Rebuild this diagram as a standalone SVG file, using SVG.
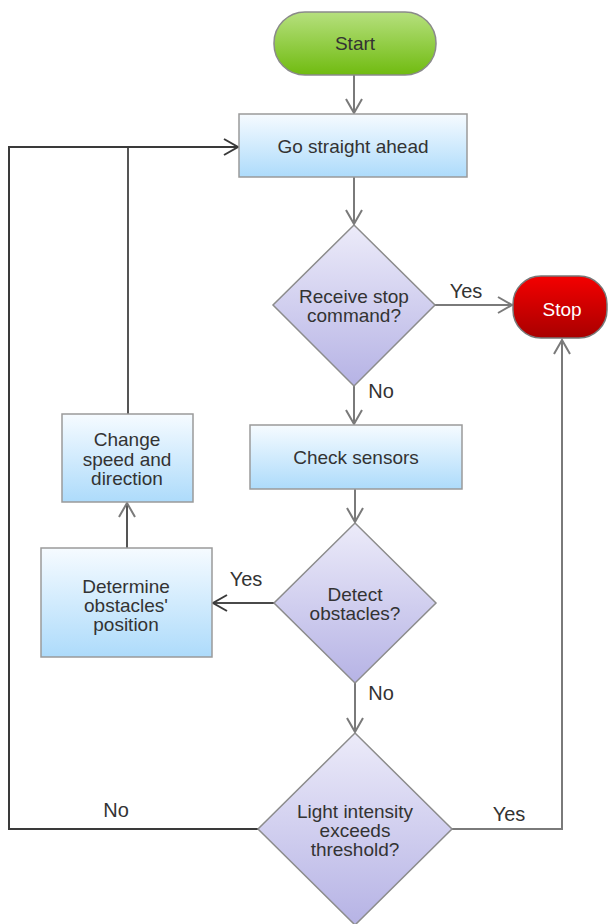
<svg xmlns="http://www.w3.org/2000/svg" width="608" height="924" viewBox="0 0 608 924">
<style>
  text { font-family: "Liberation Sans", Arial, sans-serif; font-size: 19px; fill: #333; text-anchor: middle; dominant-baseline: central; }
  .lbl { font-size: 20px; }
  .box { fill: url(#gBlue); stroke: #9a9a9a; stroke-width: 1.5; }
  .dia { fill: url(#gPurple); stroke: #8c8c8c; stroke-width: 1.5; }
  .c { fill: none; stroke: #7a7a7a; stroke-width: 2; }
  .d { fill: none; stroke: #3a3a3a; stroke-width: 2; }
  .m { stroke-width: 2; }
</style>
<defs>
  <linearGradient id="gGreen" x1="0" y1="0" x2="0" y2="1">
    <stop offset="0" stop-color="#b6e07e"/>
    <stop offset="1" stop-color="#70bb10"/>
  </linearGradient>
  <linearGradient id="gBlue" x1="0" y1="0" x2="0" y2="1">
    <stop offset="0" stop-color="#f6fbff"/>
    <stop offset="1" stop-color="#addbfb"/>
  </linearGradient>
  <linearGradient id="gPurple" x1="0" y1="0" x2="0" y2="1">
    <stop offset="0" stop-color="#ecebf9"/>
    <stop offset="1" stop-color="#b6b3e5"/>
  </linearGradient>
  <linearGradient id="gRed" x1="0" y1="0" x2="0" y2="1">
    <stop offset="0" stop-color="#f40000"/>
    <stop offset="1" stop-color="#a80000"/>
  </linearGradient>
  <marker id="aG" markerUnits="userSpaceOnUse" markerWidth="20" markerHeight="20" viewBox="-16 -10 20 20" refX="0" refY="0" orient="auto">
    <path d="M-14,-8 L0,0 L-14,8" fill="none" stroke="#7a7a7a" stroke-width="2"/>
  </marker>
  <marker id="aD" markerUnits="userSpaceOnUse" markerWidth="20" markerHeight="20" viewBox="-16 -10 20 20" refX="0" refY="0" orient="auto">
    <path d="M-14,-8 L0,0 L-14,8" fill="none" stroke="#3a3a3a" stroke-width="2"/>
  </marker>
</defs>

<g id="connectors">
  <path class="c" d="M354,75 V113" marker-end="url(#aG)"/>
  <path class="c" d="M354,177 V224" marker-end="url(#aG)"/>
  <path class="c" d="M435,305 H512" marker-end="url(#aG)"/>
  <path class="c" d="M354,386 V424" marker-end="url(#aG)"/>
  <path class="c" d="M355,489 V522" marker-end="url(#aG)"/>
  <path class="d" d="M274,603 H213" marker-end="url(#aD)" style="stroke:#4a4a4a"/>
  <path class="c" d="M127,548 V503" marker-end="url(#aG)" style="stroke:#555"/>
  <path class="c" d="M128,414 V147" style="stroke:#555"/>
  <path class="d" d="M258,829 H9 V147 H238" marker-end="url(#aD)"/>
  <path class="c" d="M355,683 V732" marker-end="url(#aG)"/>
  <path class="c" d="M452,829 H562 V340" marker-end="url(#aG)"/>
  <text class="lbl" x="466" y="291">Yes</text>
  <text class="lbl" x="381" y="391">No</text>
  <text class="lbl" x="246" y="579">Yes</text>
  <text class="lbl" x="381" y="693">No</text>
  <text class="lbl" x="116" y="810">No</text>
  <text class="lbl" x="509" y="814">Yes</text>
</g>

<g id="start">
  <rect x="274" y="12" width="162" height="63" rx="31" fill="url(#gGreen)" stroke="#8a8a8a" stroke-width="1.5"/>
  <text x="355" y="43">Start</text>
</g>
<g id="go">
  <rect class="box" x="239" y="114" width="228" height="63"/>
  <text x="353" y="146">Go straight ahead</text>
</g>
<g id="receive">
  <polygon class="dia" points="354,225 435,305 354,386 273,305"/>
  <text x="354" y="296">Receive stop</text>
  <text x="354" y="315">command?</text>
</g>
<g id="stop">
  <rect x="513" y="276" width="94" height="62" rx="28" fill="url(#gRed)" stroke="#777" stroke-width="1.5"/>
  <text x="562" y="309" style="fill:#fff">Stop</text>
</g>
<g id="check">
  <rect class="box" x="250" y="425" width="212" height="64"/>
  <text x="356" y="457">Check sensors</text>
</g>
<g id="detect">
  <polygon class="dia" points="355,523 436,603 355,683 274,603"/>
  <text x="355" y="594">Detect</text>
  <text x="355" y="613">obstacles?</text>
</g>
<g id="determine">
  <rect class="box" x="41" y="548" width="171" height="109"/>
  <text x="126" y="586">Determine</text>
  <text x="126" y="605">obstacles'</text>
  <text x="126" y="624">position</text>
</g>
<g id="change">
  <rect class="box" x="62" y="414" width="131" height="88"/>
  <text x="127" y="439">Change</text>
  <text x="127" y="459">speed and</text>
  <text x="127" y="478">direction</text>
</g>
<g id="light">
  <polygon class="dia" points="355,733 452,829 355,925 258,829"/>
  <text x="355" y="811">Light intensity</text>
  <text x="355" y="830">exceeds</text>
  <text x="355" y="849">threshold?</text>
</g>
</svg>
